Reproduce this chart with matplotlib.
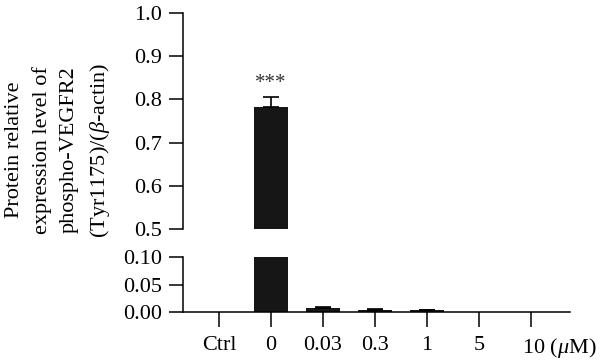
import numpy as np
import matplotlib
matplotlib.use("Agg")
import matplotlib.pyplot as plt
import matplotlib.transforms as mtransforms

plt.rcParams["font.family"] = ["Liberation Serif", "DejaVu Serif"]
plt.rcParams["mathtext.fontset"] = "custom"
plt.rcParams["mathtext.rm"] = "Liberation Serif"
plt.rcParams["mathtext.it"] = "Liberation Serif:italic"

# ── data ────────────────────────────────────────────────────────────────────
groups = ["Ctrl", "0", "0.03", "0.3", "1", "5", "10 ($\\mu$M)"]
means = [0.0, 0.782, 0.007, 0.004, 0.003, 0.0, 0.0]
errors = [0.0, 0.024, 0.003, 0.001, 0.001, 0.0, 0.0]
stars = ["", "***", "", "", "", "", ""]

ylabel = "Protein relative\nexpression level of\nphospho-VEGFR2\n(Tyr1175)/($\\beta$-actin)"

FS = 16
BAR = "#161616"
x = np.arange(len(groups))
has_err = [e > 0 for e in errors]

fig = plt.figure(figsize=(6.0, 3.62), dpi=100)
left, width = 0.305, 0.645
ax_top = fig.add_axes([left, 0.3674, width, 0.5966])
ax_bot = fig.add_axes([left, 0.138, width, 0.152])

for ax in (ax_top, ax_bot):
    ax.bar(x, means, width=0.65, color=BAR, zorder=2)
    xe = x[has_err]
    me = np.array(means)[has_err]
    ee = np.array(errors)[has_err]
    ax.errorbar(xe, me, yerr=[np.zeros(len(ee)), ee], fmt="none",
                ecolor="black", elinewidth=1.2, capsize=6, capthick=1.2, zorder=3)
    ax.set_xlim(-0.69, 6.75)
    for s in ("top", "right"):
        ax.spines[s].set_visible(False)
    ax.spines["left"].set_linewidth(1.1)
    ax.tick_params(axis="y", direction="out", length=10, width=1.1, labelsize=FS, pad=5)

ax_top.set_ylim(0.5, 1.0)
ax_top.set_yticks([0.5, 0.6, 0.7, 0.8, 0.9, 1.0])
ax_top.set_yticklabels([f"{v:.1f}" for v in [0.5, 0.6, 0.7, 0.8, 0.9, 1.0]])
ax_top.spines["bottom"].set_visible(False)
ax_top.set_xticks([])

ax_bot.set_ylim(0.0, 0.10)
ax_bot.set_yticks([0.0, 0.05, 0.10])
ax_bot.set_yticklabels(["0.00", "0.05", "0.10"])
ax_bot.spines["bottom"].set_linewidth(1.1)
ax_bot.set_xticks(x)
ax_bot.set_xticklabels(groups)
ax_bot.tick_params(axis="x", direction="out", length=11, width=1.1, labelsize=FS, pad=6)

# last label reads "10 (µM)" with the "10" sitting under its tick
last = ax_bot.get_xticklabels()[-1]
last.set_horizontalalignment("left")
last.set_transform(last.get_transform() +
                   mtransforms.ScaledTranslation(-9 / 100, 0, fig.dpi_scale_trans))

for xi, m, e, s in zip(x, means, errors, stars):
    if s:
        ax_top.text(xi, m + e + 0.010, s, ha="center", va="bottom",
                    fontsize=15, color="#333333")

fig.text(0.098, 0.586, ylabel, rotation=90, ha="center", va="center",
         fontsize=FS, linespacing=1.55, multialignment="center")

fig.savefig("out.png", dpi=100)
